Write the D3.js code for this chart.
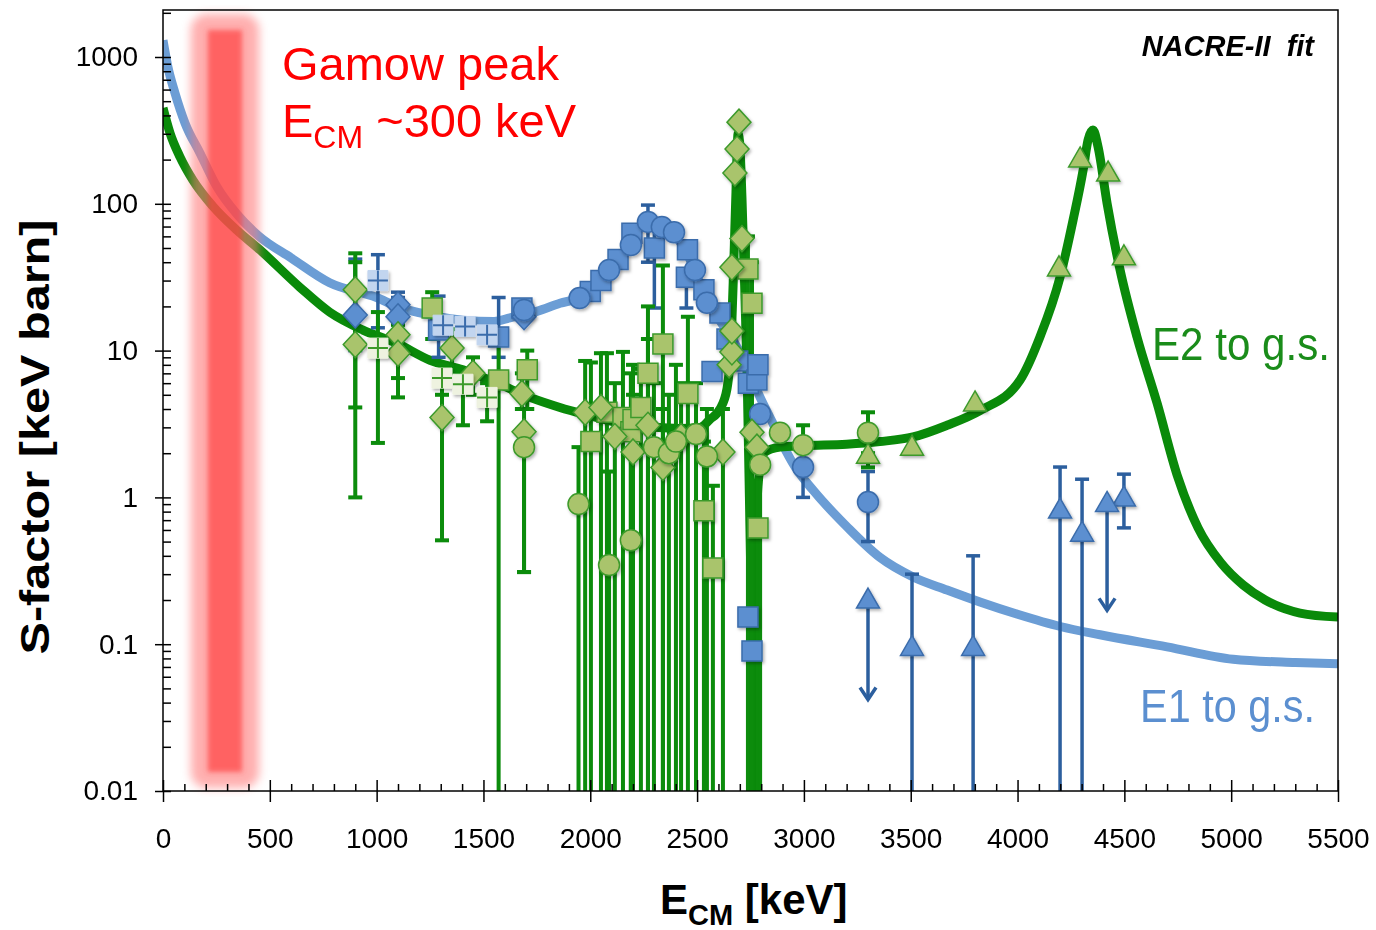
<!DOCTYPE html>
<html>
<head>
<meta charset="utf-8">
<script src="https://cdn.jsdelivr.net/npm/d3@7"></script>
<style>
  body { margin: 0; background: #fff; }
  text { font-family: "Liberation Sans", Arial, sans-serif; }
</style>
</head>
<body>
<svg id="chart" width="1376" height="930"></svg>
<script>
// axis ticks
const xMajor = [0, 500, 1000, 1500, 2000, 2500, 3000, 3500, 4000, 4500, 5000, 5500]
const yMajor = [0.01, 0.1, 1, 10, 100, 1000]

// Gamow window (keV)
const gamowOuter = [130, 450]
const gamowInner = [210, 370]

// NACRE-II fits, [E keV, S keV b]
const curveE1 = [[0,1300],[23,855],[56,569],[103,355],[173,222],[253,130],[346,85],[450,60],[600,42.8],[780,29],[1000,23],[1095,20],[1250,17.5],[1404,16.1],[1550,15.8],[1624,16.7],[1750,18.5],[1858,21],[1950,23],[2050,30],[2150,45],[2220,65],[2270,74],[2330,72],[2390,62],[2450,47],[2500,32],[2546,23],[2607,16],[2668,11.8],[2734,7.8],[2795,4.8],[2850,3.3],[2900,2.3],[2960,1.6],[3043,1.12],[3202,0.63],[3356,0.39],[3511,0.287],[3670,0.234],[3824,0.194],[4000,0.16],[4200,0.132],[4386,0.116],[4700,0.096],[5009,0.079],[5300,0.075],[5500,0.0735]]
const curveE2 = [[0,450],[33,303],[80,208],[140,145],[234,96],[346,66],[454,48.5],[641,27],[780,18.3],[936,13.8],[1095,11.2],[1250,8.6],[1404,7.4],[1563,6.0],[1718,4.8],[1858,4.1],[2000,3.6],[2139,3.2],[2300,3.0],[2420,2.95],[2514,3.0],[2560,3.4],[2607,4.0],[2640,5.5],[2660,12],[2672,40],[2682,120],[2692,300],[2700,250],[2710,110],[2722,30],[2735,6],[2745,1.0],[2755,0.1],[2762,0.003],[2772,0.2],[2785,1.2],[2810,2.0],[2888,2.2],[3000,2.25],[3200,2.3],[3356,2.4],[3511,2.58],[3670,3.1],[3824,3.9],[4012,6.3],[4105,12.4],[4199,31.7],[4260,77.6],[4307,170],[4330,272],[4353,318],[4377,244],[4419,101],[4480,35.4],[4559,12.4],[4653,4.39],[4747,1.42],[4845,0.62],[4953,0.357],[5056,0.253],[5159,0.2],[5322,0.163],[5500,0.153]]

// data [E, S, low, high] ; low 0 = bar runs to the axis, null = none
const e1Diamonds = [[900,17.5,10,42],[1100,20.5,15,25],[1100,17,13,23],[1690,17,null,null]]
const e1Squares = [[1290,13.8,9,23.5],[1571,12.4,9,23],[1680,19.5,null,null],[2000,25.3,null,null],[2050,30,null,null],[2130,41.8,null,null],[2195,63,null,null],[2300,50,19.5,70],[2455,48.6,null,null],[2450,31.6,19.5,null],[2532,26,null,null],[2570,7.2,null,null],[2607,18,null,null],[2640,12,null,null],[2690,8.5,null,null],[2738,0.153,null,null],[2740,6,null,null],[2757,0.09,null,null],[2780,6.3,null,null],[2785,8,null,null]]
const e1Circles = [[1690,18.9,null,22],[1950,22.8,null,null],[2088,35.4,null,null],[2190,52.4,null,null],[2270,75.3,40,98],[2335,69.6,null,null],[2392,64,null,null],[2490,35.4,null,null],[2546,21.2,null,null],[2795,3.7,null,null],[2996,1.61,1.0,null],[3300,0.93,0.5,1.5]]
const e1CrossSquares = [[1006,30,14.3,45],[1311,14.9,null,null],[1414,14.6,null,null],[1517,12.8,null,null]]
const e1Triangles = [[3506,0.095,0,0.3],[3792,0.095,0,0.4],[4199,0.82,0,1.61],[4302,0.57,0,1.33],[4498,0.99,0.62,1.44]]
// upper limits [E, S, arrow tip]
const e1UpperLimits = [[3300,0.2,0.042],[4419,0.91,0.17]]

const e2Diamonds = [[900,26,4.1,46],[900,11,1.0,40],[1100,12.8,6.5,18],[1100,9.6,4.8,15],[1353,10.4,7,14],[1306,3.5,0.51,5],[1451,7,5,9],[1680,5.1,4,7],[1690,2.8,0.31,4],[1976,3.8,0,8.5],[2050,4.1,0,9.6],[2115,2.6,0,6],[2200,2.04,0,5],[2270,3.1,0,12],[2340,1.6,0,4],[2425,2.6,0,6],[2621,2.04,0,4],[2650,8,null,null],[2663,9.8,null,null],[2663,13.6,null,null],[2663,37,null,null],[2677,162,null,null],[2687,236,null,null],[2696,360,null,null],[2710,58,null,null],[2757,2.78,0,null],[2780,2.2,null,null]]
const e2Squares = [[1260,19.5,12,25],[1571,6.3,0,11],[1705,7.4,4,10],[2003,2.4,0,8.3],[2078,3.8,0,9.6],[2153,3.5,0,9.8],[2190,2.8,0,7],[2200,3.4,0,8],[2237,4.1,0,7.5],[2270,7,0,20],[2340,11.1,0,38],[2457,5.1,0,17],[2532,0.81,0,2.4],[2574,0.33,0,1.2],[2738,36,0,60],[2757,21,0,40],[2785,0.62,0,2]]
const e2Circles = [[1690,2.2,0.31,3],[1945,0.9,0,2.2],[2088,0.346,0,1.5],[2190,0.51,0,2],[2298,2.2,0,6],[2368,2.0,0,5],[2401,2.4,0,8],[2495,2.7,0,6],[2546,1.9,0,4],[2795,1.67,0,null],[2888,2.76,null,null],[2996,2.27,1.6,3.1],[3300,2.76,2.0,3.8]]
const e2CrossSquares = [[1006,10.4,2.35,18.3],[1306,6.5,3.5,8],[1404,5.9,3.1,7],[1517,4.8,3.3,6]]
const e2Triangles = [[3300,1.94,1.6,null],[3506,2.2,null,null],[3801,4.4,null,null],[4194,36.6,null,null],[4293,202,null,null],[4424,162,null,null],[4498,43.5,null,null]]

const blue = { fill: '#5b8fd0', stroke: '#3b6cab', bar: '#2c5f9e', line: '#6b9dd5', cross: '#c2d5ef', plus: '#3b6cab' }
const green = { fill: '#a9c46c', stroke: '#3c9a2c', bar: '#0c8c0c', line: '#0a8a0a', cross: '#eef2e0', plus: '#3c9a2c' }

const x = d3.scaleLinear().domain([0, 5500]).range([163, 1338])
const y = d3.scaleLog().domain([0.01, 2090]).range([791, 10])

const svg = d3.select('#chart')
const defs = svg.append('defs')
defs.append('clipPath').attr('id', 'clip')
  .append('rect').attr('x', 163).attr('y', 10).attr('width', 1175).attr('height', 781)
defs.append('filter').attr('id', 'shadow')
  .attr('x', '-40%').attr('y', '-40%').attr('width', '180%').attr('height', '180%')
  .append('feDropShadow').attr('dx', 1.5).attr('dy', 2).attr('stdDeviation', 1.5)
  .attr('flood-color', '#000').attr('flood-opacity', 0.3)
defs.append('filter').attr('id', 'blurOuter')
  .attr('x', '-50%').attr('y', '-10%').attr('width', '200%').attr('height', '120%')
  .append('feGaussianBlur').attr('stdDeviation', 5)
defs.append('filter').attr('id', 'blurInner')
  .attr('x', '-50%').attr('y', '-10%').attr('width', '200%').attr('height', '120%')
  .append('feGaussianBlur').attr('stdDeviation', 2.5)

const plot = svg.append('g').attr('clip-path', 'url(#clip)')

// fit curves
const line = d3.line().x(d => x(d[0])).y(d => y(d[1])).curve(d3.curveMonotoneX)
plot.append('path').datum(curveE1).attr('d', line)
  .attr('fill', 'none').attr('stroke', blue.line).attr('stroke-width', 9)
plot.append('path').datum(curveE2).attr('d', line)
  .attr('fill', 'none').attr('stroke', green.line).attr('stroke-width', 9)

// error bars
const drawErrors = (rows, color, w) => {
  const g = plot.append('g').attr('stroke', color).attr('stroke-width', w).attr('fill', 'none')
  rows.filter(d => d[2] != null || d[3] != null).forEach(d => {
    const cx = x(d[0])
    const top = d[3] != null ? y(d[3]) : y(d[1])
    const bot = d[2] == null ? y(d[1]) : (d[2] > 0 ? y(d[2]) : 800)
    g.append('line').attr('x1', cx).attr('x2', cx).attr('y1', top).attr('y2', bot)
    if (d[3] != null) g.append('line').attr('x1', cx - 7).attr('x2', cx + 7).attr('y1', top).attr('y2', top)
    if (d[2] > 0) g.append('line').attr('x1', cx - 7).attr('x2', cx + 7).attr('y1', bot).attr('y2', bot)
  })
}
drawErrors([...e1Diamonds, ...e1Squares, ...e1Circles, ...e1CrossSquares, ...e1Triangles], blue.bar, 3.5)
drawErrors([...e2Diamonds, ...e2Squares, ...e2Circles, ...e2CrossSquares, ...e2Triangles], green.bar, 4)

// upper limit arrows
const ul = plot.append('g').attr('stroke', blue.bar).attr('stroke-width', 3.5).attr('fill', 'none')
e1UpperLimits.forEach(d => {
  const cx = x(d[0]), tip = y(d[2])
  ul.append('line').attr('x1', cx).attr('x2', cx).attr('y1', y(d[1])).attr('y2', tip)
  ul.append('path').attr('d', `M${cx - 8},${tip - 12}L${cx},${tip}L${cx + 8},${tip - 12}`)
})

// markers
const shapePath = {
  diamond: 'M0,-13L12,0L0,13L-12,0Z',
  square: 'M-10,-10H10V10H-10Z',
  triangle: 'M0,-12L11.5,8L-11.5,8Z'
}
const drawMarkers = (rows, kind, c) => {
  const g = plot.append('g').attr('filter', 'url(#shadow)')
  const m = g.selectAll('g').data(rows).join('g')
    .attr('transform', d => `translate(${x(d[0])},${y(d[1])})`)
  if (kind === 'circle') {
    m.append('circle').attr('r', 10.5).attr('fill', c.fill).attr('stroke', c.stroke).attr('stroke-width', 1.5)
  } else if (kind === 'cross') {
    m.append('path').attr('d', shapePath.square).attr('fill', c.cross).attr('stroke', c.cross).attr('stroke-width', 1)
    m.append('path').attr('d', 'M-10,0H10M0,-10V10').attr('stroke', c.plus).attr('stroke-width', 2)
  } else {
    m.append('path').attr('d', shapePath[kind]).attr('fill', c.fill).attr('stroke', c.stroke).attr('stroke-width', 1.5)
  }
}
drawMarkers(e1Squares, 'square', blue)
drawMarkers(e1Diamonds, 'diamond', blue)
drawMarkers(e1Circles, 'circle', blue)
drawMarkers(e1Triangles, 'triangle', blue)
drawMarkers(e1UpperLimits, 'triangle', blue)
drawMarkers(e2Squares, 'square', green)
drawMarkers(e2Diamonds, 'diamond', green)
drawMarkers(e2Circles, 'circle', green)
drawMarkers(e2Triangles, 'triangle', green)
drawMarkers(e2CrossSquares, 'cross', green)
drawMarkers(e1CrossSquares, 'cross', blue)

// Gamow window band
svg.append('rect')
  .attr('x', x(gamowOuter[0])).attr('width', x(gamowOuter[1]) - x(gamowOuter[0]))
  .attr('y', 14).attr('height', 774).attr('rx', 16)
  .attr('fill', '#ff7a7a').attr('opacity', 0.6).attr('filter', 'url(#blurOuter)')
svg.append('rect')
  .attr('x', x(gamowInner[0])).attr('width', x(gamowInner[1]) - x(gamowInner[0]))
  .attr('y', 30).attr('height', 742)
  .attr('fill', '#ff3b3b').attr('opacity', 0.65).attr('filter', 'url(#blurInner)')

// frame + axes
svg.append('rect').attr('x', 163).attr('y', 10).attr('width', 1175).attr('height', 781)
  .attr('fill', 'none').attr('stroke', '#000').attr('stroke-width', 1.5)

const xMinor = d3.range(0, 5501, 100).filter(v => v % 500 !== 0)
const yMinor = []
yMajor.slice(0, -1).forEach(p => d3.range(2, 10).forEach(k => yMinor.push(p * k)))
yMinor.push(2000)

const styleAxis = g => {
  g.select('.domain').remove()
  g.selectAll('line').attr('stroke', '#000').attr('stroke-width', 1.5)
  g.selectAll('text').attr('font-size', 28).attr('fill', '#000')
}
svg.append('g').attr('transform', 'translate(0,791)')
  .call(d3.axisBottom(x).tickValues(xMajor).tickSize(11).tickPadding(26).tickFormat(d3.format('d')))
  .call(styleAxis)
svg.append('g').attr('transform', 'translate(0,791)')
  .call(d3.axisTop(x).tickValues(xMajor).tickSize(11).tickFormat(''))
  .call(styleAxis)
svg.append('g').attr('transform', 'translate(0,791)')
  .call(d3.axisTop(x).tickValues(xMinor).tickSize(7).tickFormat(''))
  .call(styleAxis)
svg.append('g').attr('transform', 'translate(163,0)')
  .call(d3.axisLeft(y).tickValues(yMajor).tickSize(8).tickPadding(17).tickFormat(d => String(d)))
  .call(styleAxis)
svg.append('g').attr('transform', 'translate(163,0)')
  .call(d3.axisRight(y).tickValues(yMajor).tickSize(8).tickFormat(''))
  .call(styleAxis)
svg.append('g').attr('transform', 'translate(163,0)')
  .call(d3.axisRight(y).tickValues(yMinor).tickSize(8).tickFormat(''))
  .call(styleAxis)

// axis titles
const xt = svg.append('text').attr('x', 660).attr('y', 914)
  .attr('font-weight', 'bold').attr('font-size', 42).attr('fill', '#000')
xt.append('tspan').text('E')
xt.append('tspan').attr('font-size', 29).attr('dy', 11).text('CM')
xt.append('tspan').attr('dy', -11).text(' [keV]')

svg.append('text')
  .attr('transform', 'translate(49,437) rotate(-90)')
  .attr('text-anchor', 'middle')
  .attr('font-weight', 'bold').attr('font-size', 40).attr('fill', '#000')
  .attr('textLength', 435).attr('lengthAdjust', 'spacingAndGlyphs')
  .text('S-factor [keV barn]')

// annotations
svg.append('text').attr('x', 282).attr('y', 80)
  .attr('font-size', 47).attr('fill', '#ff0000').text('Gamow peak')
const gt = svg.append('text').attr('x', 282).attr('y', 137)
  .attr('font-size', 47).attr('fill', '#ff0000')
gt.append('tspan').text('E')
gt.append('tspan').attr('font-size', 32).attr('dy', 11).text('CM')
gt.append('tspan').attr('dy', -11).text(' ~300 keV')

svg.append('text').attr('x', 1314).attr('y', 56).attr('text-anchor', 'end')
  .attr('font-weight', 'bold').attr('font-style', 'italic').attr('font-size', 29)
  .style('white-space', 'pre')
  .text('NACRE-II  fit')

svg.append('text').attr('x', 1152).attr('y', 360)
  .attr('font-size', 46).attr('fill', '#1a8c1a')
  .attr('textLength', 178).attr('lengthAdjust', 'spacingAndGlyphs')
  .text('E2 to g.s.')
svg.append('text').attr('x', 1140).attr('y', 722)
  .attr('font-size', 46).attr('fill', '#5b8fd0')
  .attr('textLength', 175).attr('lengthAdjust', 'spacingAndGlyphs')
  .text('E1 to g.s.')
</script>
</body>
</html>
